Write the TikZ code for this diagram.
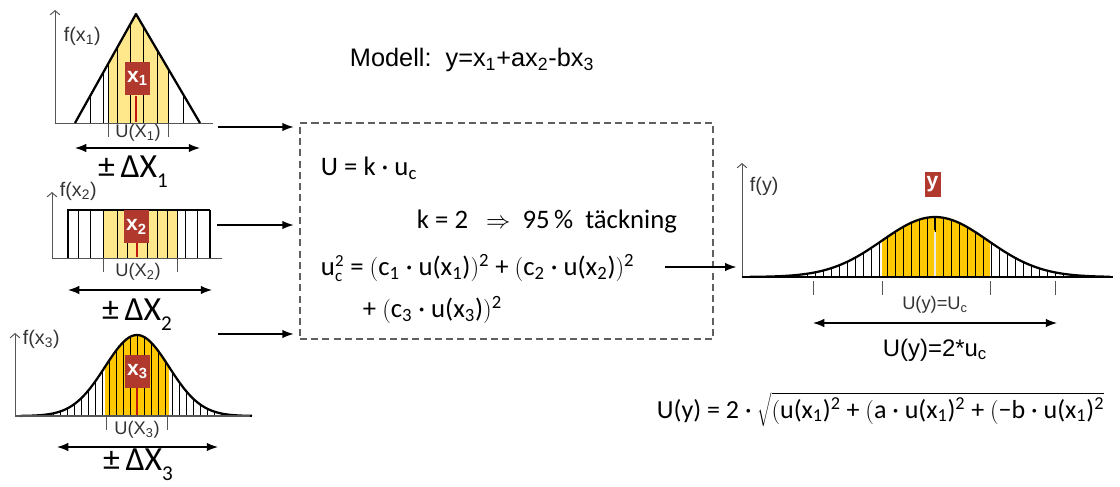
\documentclass[tikz,border=0pt]{standalone}
\usepackage{fontspec}
\setmainfont{Liberation Sans}
\newfontfamily\eqfont{Carlito}
\usetikzlibrary{arrows.meta, calc}
\definecolor{rodruta}{HTML}{B0382C}
\definecolor{rodlinje}{HTML}{C01810}
\definecolor{ljusgul}{HTML}{FFE88C}
\definecolor{guld}{HTML}{FFC800}
\definecolor{axgra}{HTML}{555555}
\definecolor{textgra}{HTML}{333333}
\definecolor{rutgra}{HTML}{606060}
\newcommand{\ssub}[2]{$^{\hbox{\fontsize{12}{12}\selectfont #1}}_{\hbox{\fontsize{12}{12}\selectfont #2}}$}
\newcommand{\dsub}[1]{\raisebox{-0.3em}{\fontsize{15}{15}\selectfont #1}}

\begin{document}
\begin{tikzpicture}[x=0.025cm, y=-0.025cm,
    axel/.style={draw=axgra, line width=0.7pt},
    axelpil/.style={axel, -{Straight Barb[length=3pt, width=7pt]}},
    kurva/.style={line width=1.6pt, line join=round},
    streck/.style={line width=0.5pt},
    tick/.style={draw=axgra, line width=0.7pt},
    rodstreck/.style={draw=rodlinje, line width=1.3pt},
    rodx/.style={fill=rodruta, text=white, font=\bfseries\fontsize{15}{15}\selectfont,
      minimum width=0.625cm, minimum height=0.825cm, inner sep=0pt},
    dubbel/.style={{Latex[length=8pt, width=6pt]}-{Latex[length=8pt, width=6pt]}, line width=0.9pt},
    pil/.style={-{Latex[length=8pt, width=6pt]}, line width=0.9pt, shorten >=4pt},
    flabel/.style={anchor=west, text=textgra, font=\fontsize{14}{16}\selectfont},
    ulabel/.style={text=textgra, font=\fontsize{13}{15}\selectfont},
    delta/.style={font=\eqfont\fontsize{24}{26}\selectfont},
    formel/.style={anchor=west, font=\eqfont\fontsize{19}{22}\selectfont},
    ruta/.style={draw=rutgra, line width=1pt, dash pattern=on 5pt off 3pt,
      minimum width=10.325cm, minimum height=5.4cm}]
  \useasboundingbox (0,0) rectangle (1120,487);

  % x1: triangel
  \draw[axelpil] (55,123) -- (55,10);
  \draw[axel] (55,123) -- (213,123);
  \begin{scope}
    \clip (75,123) -- (136,14) -- (200,123) -- cycle;
    \fill[ljusgul] (108,0) rectangle (168,123);
    \foreach \i in {90,103,108,117,130,143,157,168,183}
      \draw[streck] (\i,0) -- (\i,123);
  \end{scope}
  \draw[kurva] (75,123) -- (136,14) -- (200,123);
  \draw[rodstreck] (136,96) -- (136,122);
  \node[rodx] (x1) at (137.5,78.5) {x\textsubscript{1}};
  \draw[tick] (108,123) -- (108,137);
  \draw[tick] (168,123) -- (168,137);
  \node[ulabel] (u1) at (138,133) {U(X\textsubscript{1})};
  \node[flabel] (fx1) at (59,36) {f(x\textsubscript{1})};
  \coordinate (d1a) at (75,148);
  \coordinate (d1b) at (200,148);
  \draw[dubbel] (d1a) -- (d1b);
  \node[delta] (dx1) at (133,172) {±\,ΔX\dsub{1}};

  % x2: rektangel
  \draw[axelpil] (52,258) -- (52,192);
  \draw[axel] (52,258) -- (222,258);
  \fill[ljusgul] (103,210) rectangle (177,258);
  \foreach \i in {78,90,103,117,127,147,157,167,177,185,197}
    \draw[streck] (\i,210) -- (\i,258);
  \draw[line width=1.3pt] (68,258) -- (68,210) -- (210,210);
  \draw[line width=2pt] (210,210) -- (210,258);
  \draw[rodstreck] (137,243) -- (137,257);
  \node[rodx, anchor=north] (x2) at (136.5,210) {x\textsubscript{2}};
  \draw[tick] (103,258) -- (103,272);
  \draw[tick] (177,258) -- (177,272);
  \node[ulabel] (u2) at (138,272) {U(X\textsubscript{2})};
  \node[flabel] (fx2) at (55,191) {f(x\textsubscript{2})};
  \coordinate (d2a) at (68,290);
  \coordinate (d2b) at (212,290);
  \draw[dubbel] (d2a) -- (d2b);
  \node[delta] (dx2) at (137,315) {±\,ΔX\dsub{2}};

  % x3: normalfordelning
  \draw[axelpil] (15,416) -- (15,333);
  \begin{scope}
    \clip (20,416) -- plot[domain=20:252, samples=90] (\x, {416-81*exp(-0.5*((\x-137)/32)^2)}) -- (252,416) -- cycle;
    \fill[guld] (105,320) rectangle (169,416);
    \foreach \i in {39,46,...,236}
      \draw[streck] (\i,320) -- (\i,416);
  \end{scope}
  \draw[kurva] plot[domain=20:252, samples=90, smooth] (\x, {416-81*exp(-0.5*((\x-137)/32)^2)});
  \draw[axel, line width=1pt] (15,416) -- (250,416);
  \draw[rodstreck] (137,388) -- (137,415);
  \node[rodx] (x3) at (137.5,371.5) {x\textsubscript{3}};
  \draw[tick] (106,416) -- (106,430);
  \draw[tick] (167,416) -- (167,430);
  \node[ulabel] (u3) at (137,430) {U(X\textsubscript{3})};
  \node[flabel] (fx3) at (18,339) {f(x\textsubscript{3})};
  \coordinate (d3a) at (57,447);
  \coordinate (d3b) at (218,447);
  \draw[dubbel] (d3a) -- (d3b);
  \node[delta] (dx3) at (138,465) {±\,ΔX\dsub{3}};

  % modell och ruta
  \node[anchor=west, font=\fontsize{18}{21}\selectfont] (modell) at (345,60)
    {Modell:\ \ y=x\textsubscript{1}+ax\textsubscript{2}-bx\textsubscript{3}};
  \node[ruta] (box) at (506.5,231) {};
  \node[formel] (ukform) at (316,168) {U = k · u\textsubscript{c}};
  \node[formel] (kform) at (412,222) {k = 2 \ \ $\Rightarrow$ \ 95\,\% \ täckning};
  \node[formel] (ucform) at (316,268) {u\ssub{2}{c} = $\bigl($c\textsubscript{1} · u(x\textsubscript{1})$\bigr)$\textsuperscript{2} + $\bigl($c\textsubscript{2} · u(x\textsubscript{2})$\bigr)$\textsuperscript{2}};
  \node[formel] (c3form) at (358,310) {+ $\bigl($c\textsubscript{3} · u(x\textsubscript{3})$\bigr)$\textsuperscript{2}};

  % pilar
  \coordinate (p1) at (218,127);
  \coordinate (p2) at (217,225);
  \coordinate (p3) at (218,334);
  \draw[pil] (p1) -- (p1 -| box.west);
  \draw[pil] (p2) -- (p2 -| box.west);
  \draw[pil] (p3) -- (p3 -| box.west);
  \coordinate (ut) at (665,267);
  \coordinate (yin) at (742,267);
  \draw[pil] (ut) -- (yin);

  % y: resultat
  \draw[axelpil] (742,277) -- (742,163);
  \begin{scope}
    \clip (750,277) -- plot[domain=750:1110, samples=90] (\x, {277-60*exp(-0.5*((\x-935)/53)^2)}) -- (1110,277) -- cycle;
    \fill[guld] (882,200) rectangle (990,277);
    \foreach \i in {791,799,...,1079}
      \draw[streck] (\i,200) -- (\i,277);
  \end{scope}
  \draw[line width=1.2pt, black!8] (935,232) -- (935,276);
  \draw[line width=1.2pt] (935,217) -- (935,230);
  \draw[kurva] plot[domain=750:1110, samples=90, smooth] (\x, {277-60*exp(-0.5*((\x-935)/53)^2)});
  \draw[line width=1.4pt] (742,277) -- (1113,277);
  \foreach \t in {813,882,990,1055}
    \draw[tick] (\t,281) -- (\t,295);
  \node[rodx, minimum width=0.4cm, minimum height=0.625cm] (ybox) at (932.5,184.5) {y};
  \node[flabel] (fy) at (745,186) {f(y)};
  \node[ulabel] (uyc) at (935,305) {U(y)=U\textsubscript{c}};
  \coordinate (dya) at (813,323);
  \coordinate (dyb) at (1057,323);
  \draw[dubbel] (dya) -- (dyb);
  \node[font=\fontsize{17}{20}\selectfont] (uy2) at (935,350) {U(y)=2*u\textsubscript{c}};
  \node[formel, font=\eqfont\fontsize{18.5}{22}\selectfont] (uyform) at (652,410) {U(y) = 2 · $\sqrt{\hbox{$\bigl($u(x\textsubscript{1})\textsuperscript{2} + $\bigl($a · u(x\textsubscript{1})\textsuperscript{2} + $\bigl($−b · u(x\textsubscript{1})\textsuperscript{2}}}$};
\end{tikzpicture}
\end{document}
